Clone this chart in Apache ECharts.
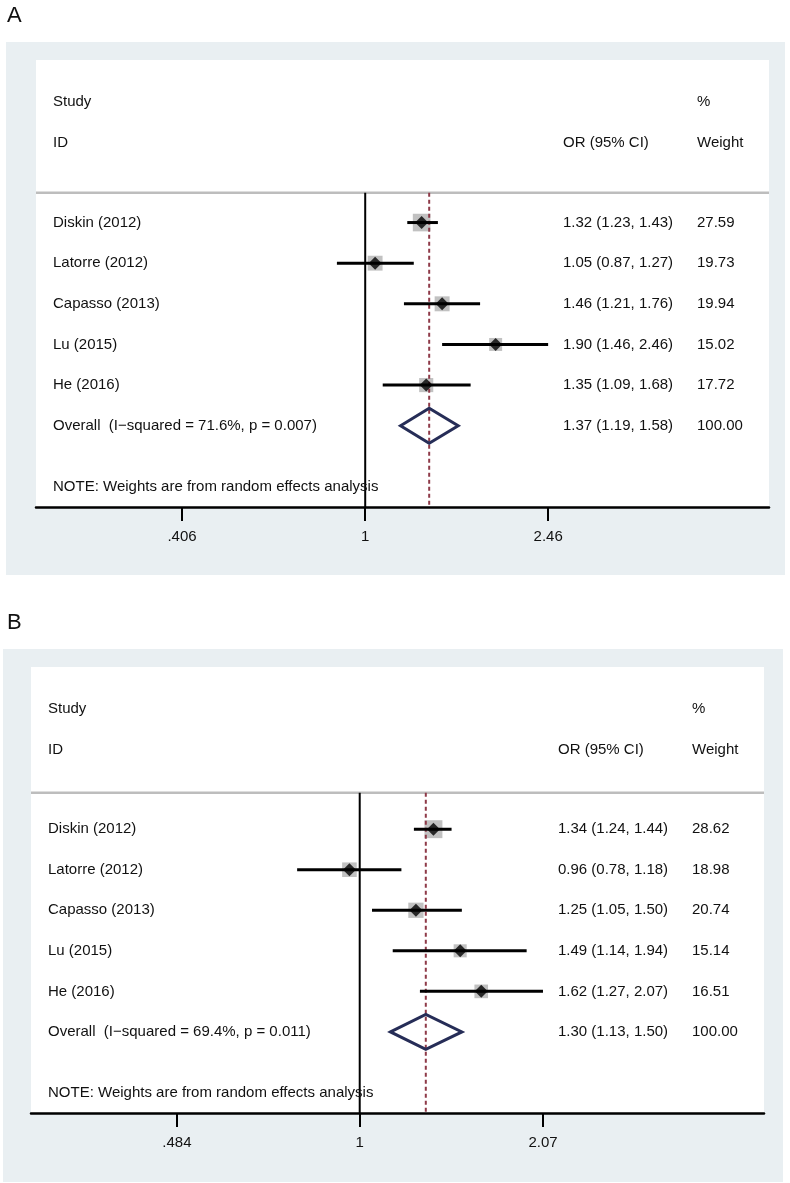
<!DOCTYPE html>
<html><head><meta charset="utf-8">
<script src="https://cdn.jsdelivr.net/npm/echarts@6/dist/echarts.min.js"></script>
<style>html,body{margin:0;padding:0;background:#fff}#c{width:790px;height:1183px}</style>
</head><body><div id="c"></div>
<script>
// ---------- DATA ----------
const studies = ['Diskin (2012)', 'Latorre (2012)', 'Capasso (2013)', 'Lu (2015)', 'He (2016)'];

const orA = [1.32, 1.05, 1.46, 1.90, 1.35];
const loA = [1.23, 0.87, 1.21, 1.46, 1.09];
const hiA = [1.43, 1.27, 1.76, 2.46, 1.68];
const wA  = [27.59, 19.73, 19.94, 15.02, 17.72];
const overallA = [1.37, 1.19, 1.58, 100.00];
const overallLabelA = 'Overall  (I\u2212squared = 71.6%, p = 0.007)';
const tickValsA = [0.406, 1, 2.46];
const tickLabelsA = ['.406', '1', '2.46'];

const orB = [1.34, 0.96, 1.25, 1.49, 1.62];
const loB = [1.24, 0.78, 1.05, 1.14, 1.27];
const hiB = [1.44, 1.18, 1.50, 1.94, 2.07];
const wB  = [28.62, 18.98, 20.74, 15.14, 16.51];
const overallB = [1.30, 1.13, 1.50, 100.00];
const overallLabelB = 'Overall  (I\u2212squared = 69.4%, p = 0.011)';
const tickValsB = [0.484, 1, 2.07];
const tickLabelsB = ['.484', '1', '2.07'];

const headerStudy = 'Study', headerID = 'ID', headerOR = 'OR (95% CI)', headerPct = '%', headerWeight = 'Weight';
const noteText = 'NOTE: Weights are from random effects analysis';

// ---------- LAYOUT ----------
const FONT = "'Liberation Sans', Arial, sans-serif";
const panels = [
  { letter: 'A', letterY: 16, box: [6, 42, 779, 533], grid: { left: 36, top: 60, width: 733, height: 447 },
    lnMin: -1.620, lnMax: 1.987, sepRow: 0.265,
    or: orA, lo: loA, hi: hiA, w: wA, overall: overallA, overallLabel: overallLabelA,
    tickVals: tickValsA, tickLabels: tickLabelsA },
  { letter: 'B', letterY: 623, box: [3, 649, 780, 533], grid: { left: 31, top: 667, width: 733, height: 446 },
    lnMin: -1.305, lnMax: 1.605, sepRow: 0.10,
    or: orB, lo: loB, hi: hiB, w: wB, overall: overallB, overallLabel: overallLabelB,
    tickVals: tickValsB, tickLabels: tickLabelsB }
];
const COL1 = 17, COL2 = 527, COL3 = 661; // text column offsets from grid left

const f2 = v => v.toFixed(2);

const option = {
  animation: false,
  backgroundColor: '#ffffff',
  grid: [], xAxis: [], yAxis: [], series: [], graphic: []
};

panels.forEach((p, gi) => {
  const L = Math.log;
  option.graphic.push(
    { type: 'rect', z: -100, shape: { x: p.box[0], y: p.box[1], width: p.box[2], height: p.box[3] }, style: { fill: '#e9eff2' } },
    { type: 'rect', z: -99, shape: { x: p.grid.left, y: p.grid.top, width: p.grid.width, height: p.grid.height }, style: { fill: '#ffffff' } },
    { type: 'text', z: 10, x: 7, y: p.letterY, style: { text: p.letter, fontSize: 22, fontFamily: FONT, fill: '#111', verticalAlign: 'middle' } }
  );
  option.grid.push(Object.assign({ containLabel: false }, p.grid));
  const tickLn = p.tickVals.map(L);
  option.xAxis.push({
    type: 'value', gridIndex: gi, min: p.lnMin, max: p.lnMax,
    axisLine: { show: true, onZero: false, lineStyle: { color: '#000', width: 2.5 } },
    axisTick: { show: true, customValues: tickLn, length: 14, lineStyle: { color: '#000', width: 2 } },
    axisLabel: { customValues: tickLn, margin: 22, fontSize: 15, fontFamily: FONT, color: '#111',
      formatter: v => { const k = tickLn.findIndex(t => Math.abs(t - v) < 1e-6); return k >= 0 ? p.tickLabels[k] : ''; } },
    splitLine: { show: false }
  });
  option.yAxis.push({ type: 'value', gridIndex: gi, min: -3, max: 8, inverse: true, show: false });

  const ax = { xAxisIndex: gi, yAxisIndex: gi };
  const rows = studies.map((s, k) => k + 1);
  const overallRow = studies.length + 1;
  const lnOverall = L(p.overall[0]);

  // separator
  option.series.push(Object.assign({ type: 'line', symbol: 'none', z: 2, silent: true,
    data: [[p.lnMin, p.sepRow], [p.lnMax, p.sepRow]], lineStyle: { color: '#bdbdbd', width: 2.5 } }, ax));
  // reference line at OR = 1
  option.series.push(Object.assign({ type: 'line', symbol: 'none', z: 3, silent: true,
    data: [[0, p.sepRow], [0, 8]], lineStyle: { color: '#000', width: 2 } }, ax));
  // weight squares
  option.series.push(Object.assign({ type: 'scatter', z: 4, silent: true, symbol: 'rect',
    symbolSize: v => 3.35 * Math.sqrt(v[2]),
    itemStyle: { color: '#b2b2b2' },
    data: rows.map((r, k) => [L(p.or[k]), r, p.w[k]]) }, ax));
  // overall dashed line
  option.series.push(Object.assign({ type: 'line', symbol: 'none', z: 5, silent: true,
    data: [[lnOverall, p.sepRow], [lnOverall, 8]], lineStyle: { color: '#8e3a48', width: 2, type: [4, 3] } }, ax));
  // CI lines
  option.series.push(Object.assign({ type: 'custom', z: 6, silent: true,
    data: rows.map((r, k) => [L(p.lo[k]), L(p.hi[k]), r]),
    encode: { x: [0, 1], y: 2 },
    renderItem: (params, api) => {
      const a = api.coord([api.value(0), api.value(2)]);
      const b = api.coord([api.value(1), api.value(2)]);
      return { type: 'line', shape: { x1: a[0], y1: a[1], x2: b[0], y2: b[1] }, style: { stroke: '#000', lineWidth: 3 } };
    } }, ax));
  // point estimates
  option.series.push(Object.assign({ type: 'scatter', z: 7, silent: true, symbol: 'diamond', symbolSize: 13,
    itemStyle: { color: '#000' },
    data: rows.map((r, k) => [L(p.or[k]), r]) }, ax));
  // overall diamond
  option.series.push(Object.assign({ type: 'custom', z: 8, silent: true,
    data: [[L(p.overall[1]), lnOverall, L(p.overall[2]), overallRow]],
    encode: { x: [0, 1, 2], y: 3 },
    renderItem: (params, api) => {
      const r = api.value(3), h = 0.43;
      const pts = [
        api.coord([api.value(0), r]), api.coord([api.value(1), r - h]),
        api.coord([api.value(2), r]), api.coord([api.value(1), r + h])
      ];
      return { type: 'polygon', shape: { points: pts }, style: { fill: 'none', stroke: '#262d57', lineWidth: 3, lineJoin: 'miter' } };
    } }, ax));
  // text columns
  const textRows = [
    [-1.96, headerStudy, '', headerPct],
    [-0.96, headerID, headerOR, headerWeight]
  ];
  studies.forEach((s, k) => textRows.push([k + 1, s, f2(p.or[k]) + ' (' + f2(p.lo[k]) + ', ' + f2(p.hi[k]) + ')', f2(p.w[k])]));
  textRows.push([overallRow, p.overallLabel, f2(p.overall[0]) + ' (' + f2(p.overall[1]) + ', ' + f2(p.overall[2]) + ')', f2(p.overall[3])]);
  textRows.push([7.5, noteText, '', '']);
  option.series.push(Object.assign({ type: 'custom', z: 9, silent: true, clip: false,
    data: textRows.map(t => [p.lnMin, t[0]]),
    encode: { x: 0, y: 1 },
    renderItem: (params, api) => {
      const t = textRows[params.dataIndex];
      const c = api.coord([api.value(0), api.value(1)]);
      const mk = (dx, txt) => ({ type: 'text', x: c[0] + dx, y: c[1],
        style: { text: txt, fill: '#111', fontSize: 15, fontFamily: FONT, align: 'left', verticalAlign: 'middle' } });
      return { type: 'group', children: [mk(COL1, t[1]), mk(COL2, t[2]), mk(COL3, t[3])] };
    } }, ax));
});

const chart = echarts.init(document.getElementById('c'), null, { renderer: 'canvas' });
chart.setOption(option);
</script>
</body></html>
